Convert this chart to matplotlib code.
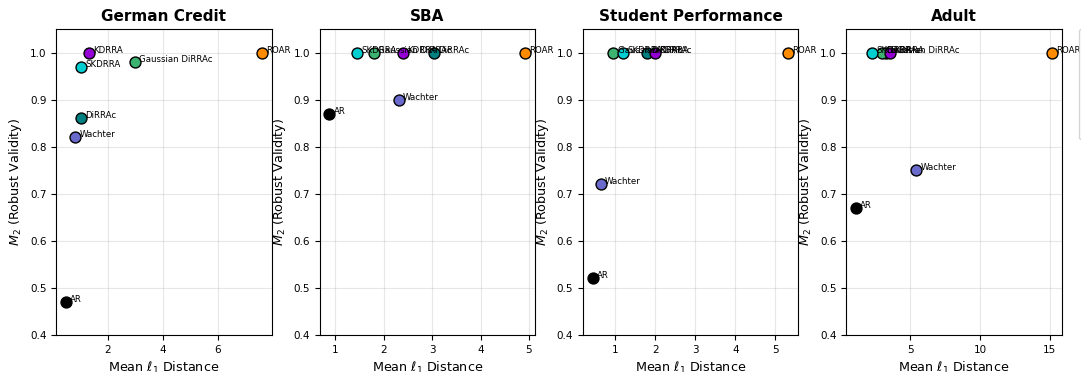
import numpy as np
import matplotlib.pyplot as plt

datasets = ['German Credit', 'SBA', 'Student Performance', 'Adult']
methods = ['AR', 'Wachter', 'DiRRAc', 'Gaussian DiRRAc', 'KDRRA', 'SKDRRA', 'ROAR']
colors = ['black', '#6a6acd', '#008080', '#3cb371', '#9400d3', '#00ced1', 'darkorange']

# mean l1 distance per dataset (same order as methods)
german_cost = [0.47, 0.80, 1.01, 2.98, 1.30, 1.03, 7.60]
sba_cost = [0.88, 2.31, 3.04, 1.80, 2.40, 1.45, 4.92]
student_cost = [0.43, 0.63, 1.80, 0.95, 2.00, 1.20, 5.33]
adult_cost = [1.12, 5.43, 3.30, 2.99, 3.55, 2.27, 15.14]

# M2 robust validity
german_valid = [0.47, 0.82, 0.86, 0.98, 1.00, 0.97, 1.00]
sba_valid = [0.87, 0.90, 1.00, 1.00, 1.00, 1.00, 1.00]
student_valid = [0.52, 0.72, 1.00, 1.00, 1.00, 1.00, 1.00]
adult_valid = [0.67, 0.75, 1.00, 1.00, 1.00, 1.00, 1.00]

x_ticks = [[2, 4, 6], [1, 2, 3, 4, 5], [1, 2, 3, 4, 5], [5, 10, 15]]

costs = [german_cost, sba_cost, student_cost, adult_cost]
valids = [german_valid, sba_valid, student_valid, adult_valid]

fig, axes = plt.subplots(1, 4, figsize=(10.81, 3.72), dpi=100)
fig.subplots_adjust(left=0.052, right=0.982, top=0.922, bottom=0.0995, wspace=0.223)

for ax, name, cost, valid, xt in zip(axes, datasets, costs, valids, x_ticks):
    for m, c, x, y in zip(methods, colors, cost, valid):
        ax.scatter(x, y, s=62, color=c, edgecolor='black', linewidth=1, zorder=3, label=m)
        ax.annotate(m, (x, y), xytext=(3, 0), textcoords='offset points', fontsize=6.2, zorder=4)
    ax.set_title(name, fontsize=11, fontweight='bold')
    ax.set_xlabel(r'Mean $\ell_1$ Distance', fontsize=9.2)
    ax.set_ylabel(r'$M_2$ (Robust Validity)', fontsize=9.2)
    ax.set_ylim(0.4, 1.05)
    ax.set_xticks(xt)
    ax.grid(True, alpha=0.3)
    ax.tick_params(labelsize=7.5)

handles, labels = axes[0].get_legend_handles_labels()
fig.legend(handles, labels, loc='upper left', bbox_to_anchor=(0.993, 0.935), fontsize=7.5)

plt.savefig('out.png', dpi=100)
